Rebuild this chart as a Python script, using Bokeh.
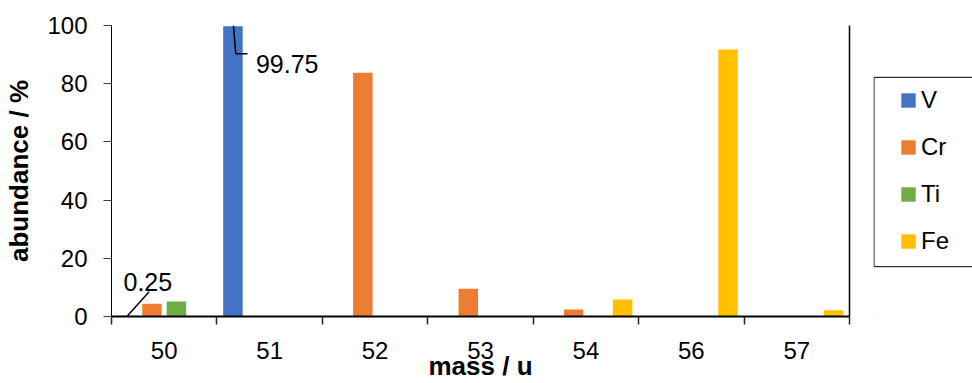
from bokeh.plotting import figure
from bokeh.layouts import row
from bokeh.models import (FixedTicker, Legend, LegendItem, LinearAxis, Range1d,
                          ColumnDataSource, BoxAnnotation)
from bokeh.embed import file_html
from bokeh.resources import INLINE
from bokeh.core.properties import value

# ---------------- data ----------------
masses = ["50", "51", "52", "53", "54", "56", "57"]
series = ["V", "Cr", "Ti", "Fe"]
V_vals = [0.25, 99.75, 0, 0, 0, 0, 0]
Cr_vals = [4.345, 0, 83.789, 9.501, 2.365, 0, 0]
Ti_vals = [5.18, 0, 0, 0, 0, 0, 0]
Fe_vals = [0, 0, 0, 0, 5.845, 91.754, 2.119]
y_ticks = [0, 20, 40, 60, 80, 100]
label_series = ["V", "V"]
label_cats = [0, 1]
label_texts = ["0.25", "99.75"]

colors = ["#4472C4", "#ED7D31", "#70AD47", "#FFC000"]
FONT = "Liberation Sans"

# ---------------- layout constants ----------------
W, H = 972, 383
LEG_W = 99
W1 = W - LEG_W
LEFT, RIGHT, TOP, BOTTOM = 111, 24, 25, 66
FW = W1 - LEFT - RIGHT
FH = H - TOP - BOTTOM
n = len(masses)
px_x = FW / n
px_y = FH / 100.0
offsets = [-0.348, -0.116, 0.116, 0.348]
bar_w = 0.185

p = figure(width=W1, height=H, x_range=Range1d(0, n), y_range=Range1d(0, 100),
           output_backend="svg", toolbar_location=None,
           min_border_left=LEFT, min_border_right=RIGHT,
           min_border_top=TOP, min_border_bottom=BOTTOM)
p.outline_line_color = None
p.background_fill_color = "white"

vals = {"V": V_vals, "Cr": Cr_vals, "Ti": Ti_vals, "Fe": Fe_vals}
for s, off, c in zip(series, offsets, colors):
    xs = [i + 0.5 + off for i in range(n)]
    src = ColumnDataSource(dict(x=xs, top=vals[s]))
    p.vbar(x="x", top="top", bottom=0, width=bar_w, source=src,
           fill_color=c, line_color=None)

# ---------------- axes ----------------
xa = p.xaxis[0]
xa.ticker = FixedTicker(ticks=[i + 0.5 for i in range(n)], minor_ticks=list(range(n + 1)))
xa.major_label_overrides = {i + 0.5: m for i, m in enumerate(masses)}
xa.major_tick_line_color = None
xa.major_tick_out = 0
xa.major_tick_in = 0
xa.minor_tick_out = 8
xa.minor_tick_in = 0
xa.minor_tick_line_color = "#262626"
xa.minor_tick_line_width = 1.5
xa.axis_line_color = "black"
xa.axis_line_width = 2
xa.major_label_standoff = 17
xa.major_label_text_font = FONT
xa.major_label_text_font_size = "24px"
xa.major_label_text_color = "black"
xa.axis_label = "mass / u"
xa.axis_label_text_font = FONT
xa.axis_label_text_font_size = "26px"
xa.axis_label_text_font_style = "bold"
xa.axis_label_text_color = "black"
xa.axis_label_standoff = -11

ya = p.yaxis[0]
ya.ticker = FixedTicker(ticks=y_ticks, minor_ticks=[])
ya.major_tick_out = 8
ya.major_tick_in = 0
ya.major_tick_line_color = "#404040"
ya.axis_line_color = "black"
ya.axis_line_width = 1
ya.major_label_standoff = 16
ya.major_label_text_font = FONT
ya.major_label_text_font_size = "24px"
ya.major_label_text_color = "black"
ya.axis_label = "abundance / %"
ya.axis_label_text_font = FONT
ya.axis_label_text_font_size = "26px"
ya.axis_label_text_font_style = "bold"
ya.axis_label_text_color = "black"
ya.axis_label_standoff = 10

ra = LinearAxis(ticker=FixedTicker(ticks=[]), axis_line_color="black", axis_line_width=1.5,
                major_tick_line_color=None, minor_tick_line_color=None,
                major_tick_out=0, major_tick_in=0)
p.add_layout(ra, "right")

p.xgrid.visible = False
p.ygrid.ticker = FixedTicker(ticks=[100])
p.ygrid.grid_line_color = "#808080"
p.ygrid.grid_line_width = 1.5

# ---------------- data labels with leader lines ----------------
sidx = {s: k for k, s in enumerate(series)}
lx = [c + 0.5 + offsets[sidx[s]] for s, c in zip(label_series, label_cats)]
ly = [vals[s][c] for s, c in zip(label_series, label_cats)]
tx_off = [-4, 23]
ty_off = [-34, 38]
p.text(x=lx, y=ly, text=label_texts, x_offset=tx_off, y_offset=ty_off,
       text_font=value(FONT), text_font_size="25px", text_color="black",
       text_baseline="alphabetic", text_align="left")

leader_px = [
    [(0, 0), (21.6, 24.0)],
    [(0.5, 0.7), (2.8, -27.6), (14.5, -27.6)],
]
lxs, lys = [], []
for (x0, y0), pts in zip(zip(lx, ly), leader_px):
    lxs.append([x0 + dx / px_x for dx, dy in pts])
    lys.append([y0 + dy / px_y for dx, dy in pts])
p.multi_line(xs=lxs, ys=lys, line_color="black", line_width=1.5)

# ---------------- legend panel (second figure; frame aligned with the main one) ----------------
q = figure(width=LEG_W, height=H, x_range=Range1d(0, LEG_W), y_range=Range1d(0, FH),
           output_backend="svg", toolbar_location=None,
           min_border_left=0, min_border_right=0,
           min_border_top=TOP, min_border_bottom=BOTTOM)
q.axis.visible = False
q.grid.visible = False
q.outline_line_color = None
q.background_fill_color = "white"

items = []
for s, c in zip(series, colors):
    r = q.vbar(x=[-100], top=[-100], bottom=-200, width=1, fill_color=c, line_color=None)
    items.append(LegendItem(label=s, renderers=[r]))

# legend frame (pixel units measured from the frame bottom)
q.add_layout(BoxAnnotation(left=0.5, right=LEG_W + 50, bottom=(TOP + FH) - 267,
                           top=(TOP + FH) - 77,
                           fill_alpha=0, line_color="black", line_width=1, line_alpha=1))

legend = Legend(items=items, location=(26, 61), orientation="vertical",
                border_line_color=None, background_fill_alpha=0,
                padding=0, margin=0, glyph_width=18, glyph_height=18,
                label_standoff=4, label_height=29, spacing=18,
                label_text_font=FONT, label_text_font_size="24px",
                label_text_color="black")
q.add_layout(legend, "center")

layout = row(p, q)
open("out.html", "w").write(file_html(layout, INLINE))
